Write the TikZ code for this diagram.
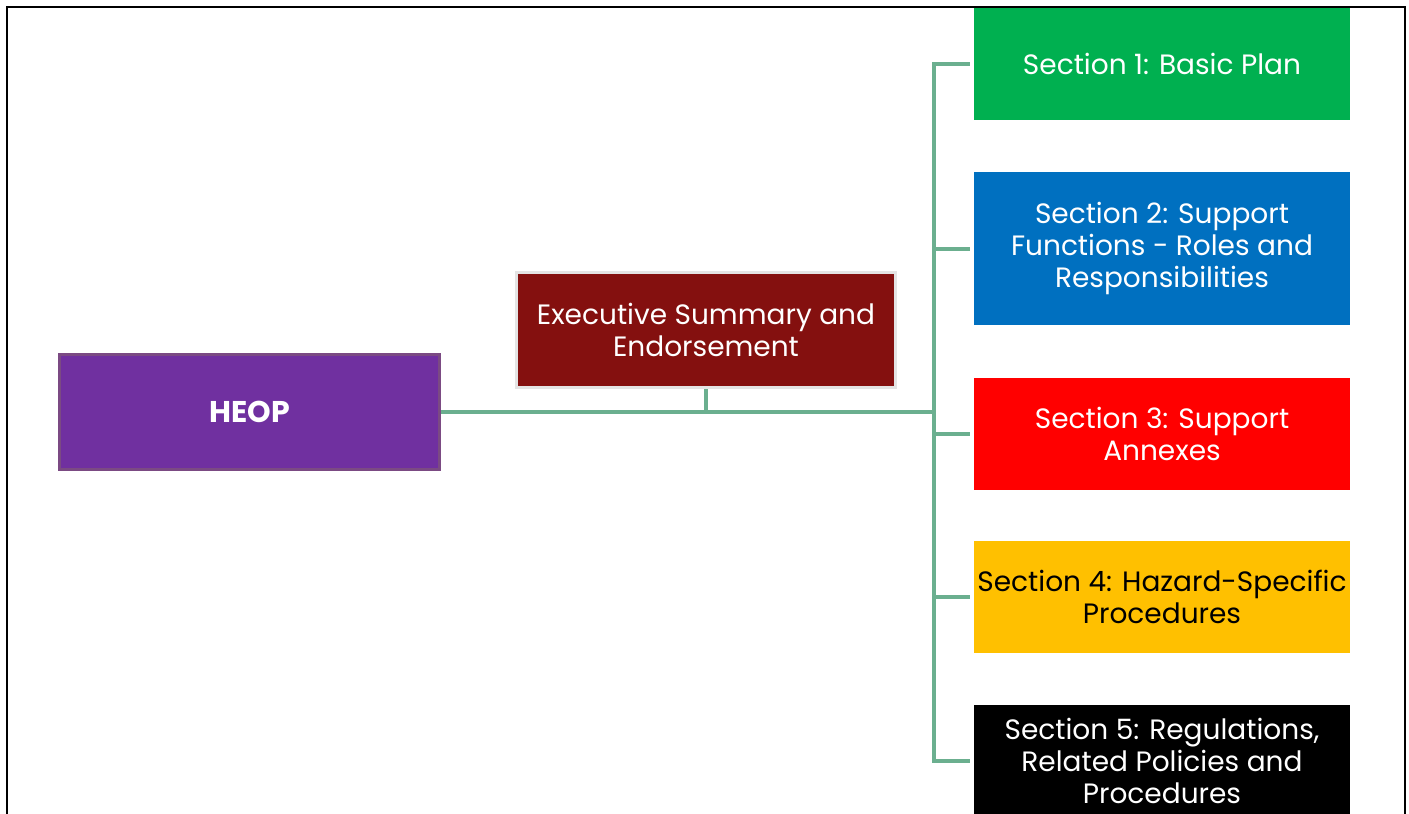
\documentclass[tikz,border=0pt]{standalone}
\usepackage{fontspec}
\setmainfont{Poppins}
\begin{document}
\begin{tikzpicture}[x=1pt,y=-1pt,
  conn/.style={draw=connc, line width=4pt},
  secbox/.style={rectangle, minimum width=376pt, minimum height=112pt,
    align=center, inner sep=0pt, font=\fontsize{28}{32}\selectfont},
]
\definecolor{connc}{HTML}{6BAF8F}
\definecolor{heopc}{HTML}{7030A0}
\definecolor{heopb}{HTML}{7B4A83}
\definecolor{execc}{HTML}{84100F}
\definecolor{execb}{HTML}{E4E4E4}
\definecolor{s1c}{HTML}{00B050}
\definecolor{s2c}{HTML}{0070C0}
\definecolor{s3c}{HTML}{FF0000}
\definecolor{s4c}{HTML}{FFC000}
\useasboundingbox (0,0) rectangle (1409,814);
\fill[white] (0,0) rectangle (1409,814);
% outer frame, open at the bottom
\draw[line width=2pt] (7,830) -- (7,7) -- (1405,7) -- (1405,830);

\node[rectangle, fill=heopc, draw=heopb, line width=3pt, minimum width=380pt,
  minimum height=115pt, text=white, font=\fontsize{30}{34}\selectfont\bfseries]
  (heop) at (249.5,411.5) {HEOP};
\node[rectangle, fill=execc, draw=execb, line width=3pt, minimum width=379pt,
  minimum height=115pt, text=white, align=center, inner sep=0pt,
  font=\fontsize{28}{32}\selectfont] (exec) at (706,330)
  {Executive Summary and\\Endorsement};

\node[secbox, fill=s1c, text=white] (s1) at (1162,64) {Section 1: Basic Plan};
\node[secbox, fill=s2c, text=white, minimum height=153pt] (s2) at (1162,248.5)
  {Section 2: Support\\Functions - Roles and\\Responsibilities};
\node[secbox, fill=s3c, text=white] (s3) at (1162,433.5) {Section 3: Support\\Annexes};
\node[secbox, fill=s4c, text=black] (s4) at (1162,597) {Section 4: Hazard-Specific\\Procedures};
\node[secbox, fill=black, text=white] (s5) at (1162,760.5)
  {Section 5: Regulations,\\Related Policies and\\Procedures};

\coordinate (bus) at (934,411.5);
\draw[conn] (heop.east) -- (bus);
\draw[conn] (exec.south) -- (exec.south |- bus);
\foreach \s in {s1,s2,s3,s4,s5}
  \draw[conn, shorten >=4pt] (bus) |- (\s.west);
\end{tikzpicture}
\end{document}
